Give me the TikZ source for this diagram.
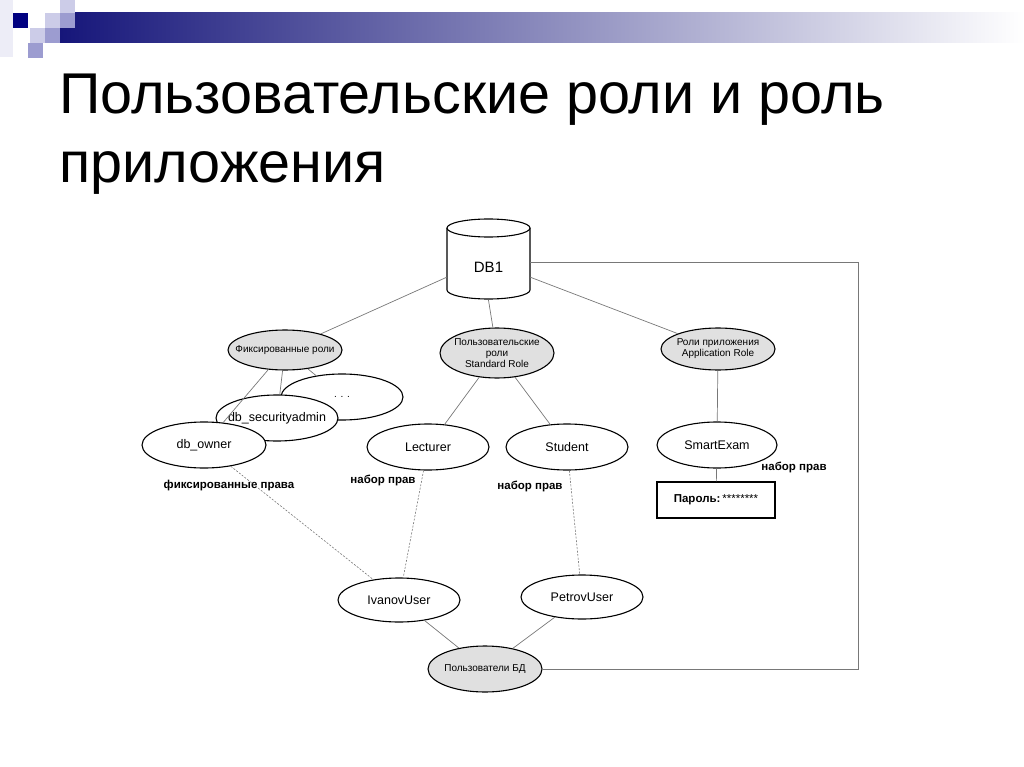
\documentclass[tikz,border=0pt]{standalone}
\usepackage{fontspec}
\setmainfont{Liberation Sans}
\usetikzlibrary{shapes.geometric}

\definecolor{barnavy}{RGB}{22,22,122}
\definecolor{barmid}{RGB}{150,150,178}
\definecolor{sqdark}{RGB}{0,0,128}
\definecolor{sqlight}{RGB}{204,204,232}
\definecolor{sqmid}{RGB}{156,156,208}
\definecolor{rolegray}{RGB}{224,224,224}
\definecolor{linkgray}{RGB}{120,120,120}

\tikzset{
  role/.style={ellipse, draw, line width=1.1pt, fill=white, minimum width=122pt,
    minimum height=46pt, inner sep=-10pt, font=\fontsize{12.5}{14}\selectfont},
  grouprole/.style={role, fill=rolegray, minimum width=114pt, align=center,
    font=\fontsize{10}{11}\selectfont},
  link/.style={draw=linkgray, line width=0.7pt},
  rights/.style={draw=linkgray, line width=0.6pt, dash pattern=on 2pt off 1.5pt},
  rightslabel/.style={font=\bfseries\fontsize{11.5}{13}\selectfont, inner sep=0pt},
}

\begin{document}
\begin{tikzpicture}[x=1pt, y=1pt]
  \useasboundingbox (0,0) rectangle (1024,-767);

  % Header
  \shade[left color=barnavy, middle color=barmid, right color=white]
    (60,-13) rectangle (1024,-43);
  \fill[sqlight!35] (0,0) rectangle (13,-57);
  \fill[sqdark] (13,-13) rectangle (28,-28);
  \fill[white] (28,-13) rectangle (45,-28);
  \fill[sqlight] (60,0) rectangle (75,-13);
  \fill[sqlight] (45,-13) rectangle (60,-28);
  \fill[sqmid] (60,-13) rectangle (75,-28);
  \fill[sqlight] (30,-28) rectangle (45,-43);
  \fill[sqmid] (45,-28) rectangle (60,-43);
  \fill[sqmid] (28,-43) rectangle (43,-58);

  % Title
  \node[anchor=base west, inner sep=0pt, font=\fontsize{57.5}{66}\selectfont] (title1)
    at (59,-114) {Пользовательские роли и роль};
  \node[anchor=base west, inner sep=0pt, font=\fontsize{57.5}{66}\selectfont] (title2)
    at (59,-183) {приложения};

  % DB1
  \draw[line width=1.1pt, fill=white] (447,-228) -- (447,-290)
    arc (180:360:41.5 and 9) -- (530,-228);
  \draw[line width=1.1pt, fill=white] (488.5,-228) ellipse (41.5 and 9);
  \node[minimum width=83pt, minimum height=76pt, inner sep=0pt, text height=20pt,
    text depth=0pt, font=\fontsize{15}{17}\selectfont] (db) at (488.5,-262) {DB1};

  % Roles
  \node[grouprole, minimum height=40pt] (fix) at (285,-350) {Фиксированные роли};
  \node[grouprole, minimum height=50pt] (std) at (497,-353)
    {Пользовательские\\роли\\Standard Role};
  \node[grouprole, minimum height=42pt] (app) at (718,-349)
    {Роли приложения\\Application Role};

  \node[role, font=\fontsize{10}{11}\selectfont] (dots) at (342,-397) {. . .};
  \node[role] (secadmin) at (277,-418) {db\_securityadmin};
  \node[role, minimum width=124pt] (owner) at (204,-445) {db\_owner};
  \node[role] (lecturer) at (428,-447) {Lecturer};
  \node[role] (student) at (567,-447) {Student};
  \node[role, minimum width=120pt] (smart) at (717,-445) {SmartExam};
  \node[draw, line width=1.2pt, minimum width=118pt, minimum height=36pt,
    font=\fontsize{11.5}{13}\selectfont] (pwd) at (716,-500)
    {\textbf{Пароль:}\,********};

  % Users
  \node[role, minimum height=44pt] (ivanov) at (399,-600) {IvanovUser};
  \node[role, minimum height=44pt] (petrov) at (582,-597) {PetrovUser};
  \node[grouprole, minimum height=46pt] (users) at (485,-669) {Пользователи БД};

  % Rights labels
  \node[rightslabel] (fixrights) at (229,-486) {фиксированные права};
  \node[rightslabel] (lectrights) at (383,-480) {набор прав};
  \node[rightslabel] (studrights) at (530,-486) {набор прав};
  \node[rightslabel] (smartrights) at (794,-467) {набор прав};

  % Links
  \draw[link] (db.200) -- (fix);
  \draw[link] (db.south) -- (std);
  \draw[link] (db.340) -- (app);
  \draw[link] (fix) -- (dots);
  \draw[link] (fix) -- (secadmin);
  \draw[link] (fix) -- (owner);
  \draw[link] (std) -- (lecturer);
  \draw[link] (std) -- (student);
  \draw[link] (app) -- (smart);
  \draw[link] (smart) -- (pwd);
  \draw[link] (ivanov) -- (users);
  \draw[link] (petrov) -- (users);
  \coordinate (rail) at (858,-262);
  \draw[link, line width=1pt] (users.east) -| (rail) -- (db.east);

  % Granted rights
  \draw[rights] (owner) -- (ivanov);
  \draw[rights] (lecturer) -- (ivanov);
  \draw[rights] (student) -- (petrov);
\end{tikzpicture}
\end{document}
